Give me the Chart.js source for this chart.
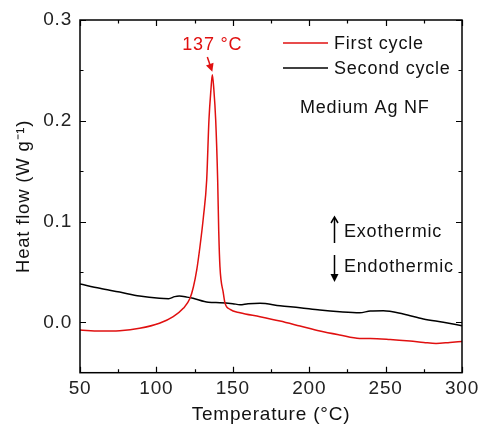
<!DOCTYPE html>
<html>
<head>
<meta charset="utf-8">
<script src="https://cdn.jsdelivr.net/npm/chart.js@4/dist/chart.umd.min.js"></script>
<style>
  html, body { margin: 0; padding: 0; background: #fff; }
</style>
</head>
<body>
<canvas id="dsc_chart" width="483" height="430"></canvas>
<script>
// First cycle (red)
const firstTemp = [50, 63, 76, 89, 102, 111, 117.6, 122, 124.2, 126.4, 128.5, 130.8, 132.9, 134.4, 135.7, 136.6, 137.6, 138.8, 140.1, 140.8, 141.6, 143.8, 144.9, 148.2, 154.7, 167.8, 180.9, 194, 207, 220, 233, 240, 253, 266, 275, 283, 292, 300];
const firstFlow = [-0.0077, -0.0087, -0.0083, -0.006, -0.001, 0.0056, 0.0139, 0.0238, 0.035, 0.052, 0.075, 0.105, 0.141, 0.201, 0.231, 0.2457, 0.231, 0.201, 0.141, 0.09, 0.055, 0.029, 0.019, 0.0129, 0.0095, 0.0056, 0.0013, -0.0037, -0.0087, -0.0126, -0.016, -0.016, -0.017, -0.0186, -0.020, -0.021, -0.020, -0.019];
// Second cycle (black)
const secondTemp = [50, 63, 76, 89, 102, 108, 112, 115, 120, 124, 134, 141.6, 150, 154.7, 160, 167.8, 180.9, 194, 207, 220, 233, 240, 248.5, 261.6, 274.7, 287.8, 300];
const secondFlow = [0.038, 0.0337, 0.030, 0.026, 0.0238, 0.0235, 0.0255, 0.026, 0.025, 0.0238, 0.0199, 0.0195, 0.0185, 0.0175, 0.0185, 0.0189, 0.0165, 0.0145, 0.0122, 0.0105, 0.0095, 0.0112, 0.0115, 0.0082, 0.0033, 0.0, -0.0033];

const xTicks = [50, 100, 150, 200, 250, 300];
const xMinorTicks = [75, 125, 175, 225, 275];
const yTicks = [0.0, 0.1, 0.2, 0.3];
const yMinorTicks = [0.05, 0.15, 0.25];
const seriesNames = ['First cycle', 'Second cycle'];
const peakTemp = 136.6, peakFlow = 0.2457;

const RED = '#e01010';
const FONT = 'Arial, "Liberation Sans", sans-serif';

function toPoints(xs, ys) { return xs.map((x, i) => ({ x: x, y: ys[i] })); }

function arrowHead(ctx, x, y, ang, len, w, open) {
  ctx.beginPath();
  ctx.moveTo(x - len * Math.cos(ang) + w * Math.sin(ang), y - len * Math.sin(ang) - w * Math.cos(ang));
  ctx.lineTo(x, y);
  ctx.lineTo(x - len * Math.cos(ang) - w * Math.sin(ang), y - len * Math.sin(ang) + w * Math.cos(ang));
  if (open) { ctx.stroke(); return; }
  ctx.closePath();
  ctx.fill();
}

// wider glyph spacing like the original figure
const spacingPlugin = {
  id: 'spacing',
  beforeDraw(chart) { chart.ctx.letterSpacing = '0.8px'; }
};

const decorPlugin = {
  id: 'decor',
  afterDraw(chart) {
    const ctx = chart.ctx;
    const a = chart.chartArea;
    const xs = chart.scales.x, ys = chart.scales.y;
    ctx.save();
    // frame
    ctx.strokeStyle = '#000';
    ctx.lineWidth = 1.5;
    ctx.strokeRect(a.left, a.top, a.right - a.left, a.bottom - a.top);
    // inward ticks
    ctx.lineWidth = 1.2;
    ctx.beginPath();
    const tx = (v, len) => {
      const p = Math.round(xs.getPixelForValue(v)) + 0.5;
      ctx.moveTo(p, a.bottom); ctx.lineTo(p, a.bottom - len);
      ctx.moveTo(p, a.top); ctx.lineTo(p, a.top + len);
    };
    const ty = (v, len) => {
      const p = Math.round(ys.getPixelForValue(v)) + 0.5;
      ctx.moveTo(a.left, p); ctx.lineTo(a.left + len, p);
      ctx.moveTo(a.right, p); ctx.lineTo(a.right - len, p);
    };
    xTicks.forEach(v => tx(v, 6));
    xMinorTicks.forEach(v => tx(v, 3.5));
    yTicks.forEach(v => ty(v, 6));
    yMinorTicks.forEach(v => ty(v, 3.5));
    ctx.stroke();

    // legend
    ctx.font = '18px ' + FONT;
    ctx.textBaseline = 'middle';
    ctx.textAlign = 'left';
    const legY = [43, 68];
    chart.data.datasets.forEach((ds, i) => {
      ctx.strokeStyle = ds.borderColor;
      ctx.lineWidth = 1.5;
      ctx.beginPath();
      ctx.moveTo(283, legY[i]); ctx.lineTo(328, legY[i]);
      ctx.stroke();
      ctx.fillStyle = '#111';
      ctx.fillText(seriesNames[i], 334, legY[i] + 1);
    });

    // sample label
    ctx.fillStyle = '#111';
    ctx.fillText('Medium Ag NF', 300, 108);

    // exo / endo
    ctx.fillText('Exothermic', 344, 232);
    ctx.fillText('Endothermic', 344, 267);
    ctx.strokeStyle = '#000';
    ctx.fillStyle = '#000';
    ctx.lineWidth = 1.5;
    ctx.beginPath();
    ctx.moveTo(334.5, 243); ctx.lineTo(334.5, 218);
    ctx.moveTo(334.5, 255); ctx.lineTo(334.5, 276);
    ctx.stroke();
    arrowHead(ctx, 334.5, 217, -Math.PI / 2, 6, 3.5, true);
    arrowHead(ctx, 334.5, 282, Math.PI / 2, 8, 4, false);

    // peak annotation
    const px = xs.getPixelForValue(peakTemp);
    const py = ys.getPixelForValue(peakFlow);
    ctx.fillStyle = RED;
    ctx.strokeStyle = RED;
    ctx.textAlign = 'center';
    ctx.fillText('137 °C', px, 45);
    const tipX = px, tipY = py - 3;
    const sx = px - 5, sy = 57;
    const ang = Math.atan2(tipY - sy, tipX - sx);
    ctx.beginPath();
    ctx.moveTo(sx, sy);
    ctx.lineTo(tipX - 5 * Math.cos(ang), tipY - 5 * Math.sin(ang));
    ctx.stroke();
    arrowHead(ctx, tipX, tipY, ang, 8, 4, false);
    ctx.restore();
  }
};

const ctx = document.getElementById('dsc_chart').getContext('2d');
const dscChart = new Chart(ctx, {
  type: 'line',
  data: {
    datasets: [
      { label: seriesNames[0], data: toPoints(firstTemp, firstFlow), borderColor: RED, borderWidth: 1.5, pointRadius: 0, cubicInterpolationMode: 'monotone', fill: false },
      { label: seriesNames[1], data: toPoints(secondTemp, secondFlow), borderColor: '#000', borderWidth: 1.5, pointRadius: 0, cubicInterpolationMode: 'monotone', fill: false }
    ]
  },
  options: {
    responsive: false,
    animation: false,
    devicePixelRatio: 1,
    layout: { padding: { top: 20, right: 21, bottom: 0, left: 0 } },
    plugins: { legend: { display: false }, tooltip: { enabled: false } },
    scales: {
      x: {
        type: 'linear', min: 50, max: 300,
        grid: { display: false, drawTicks: false },
        border: { display: false },
        afterBuildTicks: s => { s.ticks = xTicks.map(v => ({ value: v })); },
        afterFit: s => { s.height = 57.3; },
        ticks: { padding: 4.5, color: '#222', font: { family: FONT, size: 19, lineHeight: 1.2 }, maxRotation: 0, callback: v => String(v) },
        title: { display: true, text: 'Temperature (°C)', color: '#111', padding: { top: 0, bottom: 4 }, font: { family: FONT, size: 19, lineHeight: 1.2 } }
      },
      y: {
        type: 'linear', min: -0.05, max: 0.3,
        grid: { display: false, drawTicks: false },
        border: { display: false },
        afterBuildTicks: s => { s.ticks = yTicks.map(v => ({ value: v })); },
        afterFit: s => { s.width = 80; },
        ticks: { padding: 8, color: '#222', font: { family: FONT, size: 19, lineHeight: 1.2 }, callback: v => v.toFixed(1) },
        title: { display: true, text: 'Heat flow (W g⁻¹)', color: '#111', padding: { top: 13, bottom: 0 }, font: { family: FONT, size: 18.5, lineHeight: 1.2 } }
      }
    }
  },
  plugins: [spacingPlugin, decorPlugin]
});
</script>
</body>
</html>
